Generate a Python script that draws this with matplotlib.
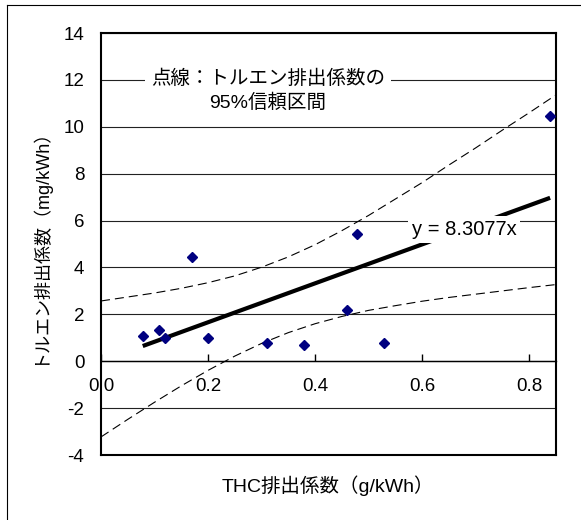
import numpy as np
import matplotlib
matplotlib.use('Agg')
import matplotlib.pyplot as plt
from matplotlib.lines import Line2D

plt.rcParams['font.family'] = ['Liberation Sans', 'Noto Sans CJK JP']
plt.rcParams['lines.scale_dashes'] = False
plt.rcParams['axes.unicode_minus'] = False

# THC排出係数 (g/kWh) vs トルエン排出係数 (mg/kWh)
thc = [0.078, 0.109, 0.120, 0.170, 0.199, 0.310, 0.379, 0.459, 0.479, 0.529, 0.839]
toluene = [1.08, 1.32, 0.97, 4.45, 0.99, 0.78, 0.71, 2.17, 5.43, 0.78, 10.48]

slope = 8.3077

# 95%信頼区間
band_x = [0.0, 0.05, 0.1, 0.15, 0.2, 0.25, 0.3, 0.35, 0.4, 0.45,
          0.5, 0.55, 0.6, 0.65, 0.7, 0.75, 0.8, 0.85]
band_upper = [2.57, 2.74, 2.91, 3.11, 3.35, 3.64, 4.01, 4.45, 4.97, 5.57,
              6.22, 6.92, 7.62, 8.37, 9.10, 9.86, 10.60, 11.36]
band_lower = [-3.23, -2.48, -1.75, -1.05, -0.39, 0.22, 0.76, 1.22, 1.60, 1.91,
              2.17, 2.37, 2.56, 2.72, 2.86, 3.00, 3.14, 3.27]

xticks = [0.0, 0.2, 0.4, 0.6, 0.8]
xticklabels = ['0.0', '0.2', '0.4', '0.6', '0.8']
yticks = [-4, -2, 0, 2, 4, 6, 8, 10, 12, 14]

fig = plt.figure(figsize=(5.81, 5.2), dpi=100)
ax = fig.add_axes([101/581, 65/520, 455/581, 422/520])

ax.plot(band_x, band_upper, color='black', lw=0.8, dashes=(6.5, 3.6), zorder=3)
ax.plot(band_x, band_lower, color='black', lw=0.8, dashes=(6.5, 3.6), zorder=3)

fit_x = np.array([min(thc), max(thc)])
ax.plot(fit_x, slope * fit_x, color='black', lw=3, solid_capstyle='butt', zorder=4)

ax.plot(thc, toluene, ls='none', marker='D', ms=5.4, color='#000080',
        markeredgecolor='#000080', zorder=5)

ax.set_xlim(0, 0.85)
ax.set_ylim(-4, 14)
ax.set_xticks(xticks)
ax.set_xticklabels(xticklabels)
ax.set_yticks(yticks)
ax.set_yticklabels([str(v) for v in yticks])

ax.yaxis.grid(True, color='#222222', lw=0.8)
ax.set_axisbelow(True)

for side in ['top', 'left', 'right']:
    ax.spines[side].set_linewidth(1.5)
ax.spines['bottom'].set_position(('data', 0))
ax.spines['bottom'].set_linewidth(1)
ax.axhline(-4, color='black', lw=1.5, clip_on=False, zorder=6)

ax.tick_params(axis='y', length=0, pad=12, labelsize=13.5)
ax.tick_params(axis='x', direction='in', length=5, width=1, pad=12, labelsize=13.5)

ax.text(0.312, 11.54, '点線：トルエン排出係数の\n95%信頼区間', ha='center', va='center',
        fontsize=14, linespacing=1.35, zorder=7,
        bbox=dict(boxstyle='square,pad=0.3', fc='white', ec='none'))
ax.text(0.678, 5.63, 'y = 8.3077x', ha='center', va='center', fontsize=14.5, zorder=7,
        bbox=dict(boxstyle='square,pad=0.2', fc='white', ec='none'))

ax.text(0.498, -0.073, 'THC排出係数（g/kWh）', transform=ax.transAxes,
        ha='center', va='center', fontsize=14)
ax.text(-0.138, 0.505, 'トルエン排出係数（mg/kWh）', transform=ax.transAxes,
        ha='center', va='center', rotation=90, fontsize=13)

# outer chart border (only left and top edges are visible)
fig.add_artist(Line2D([7/581, 7/581], [0, 1 - 5/520], color='black', lw=0.8,
                      transform=fig.transFigure))
fig.add_artist(Line2D([7/581, 1], [1 - 5/520, 1 - 5/520], color='black', lw=0.8,
                      transform=fig.transFigure))

fig.savefig('out.png', dpi=100)
